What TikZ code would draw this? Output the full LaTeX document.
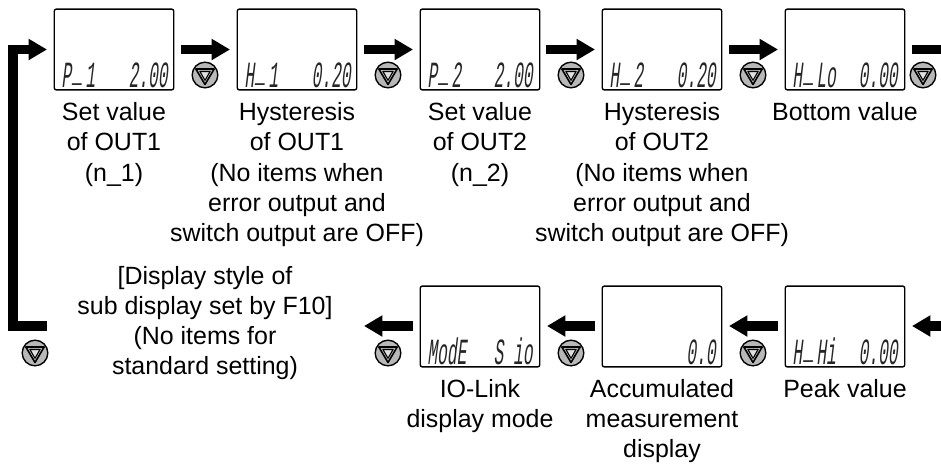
\documentclass[tikz,border=0pt]{standalone}
\usepackage{fontspec}
\setmainfont{Liberation Sans}
\newfontfamily\lcdfont[FakeStretch=0.44,FakeSlant=0.12]{Liberation Mono}
\newcommand{\lcdbar}{\kern0.8pt\raisebox{3pt}{\_}\kern1.8pt}
\usetikzlibrary{positioning}
\usetikzlibrary{arrows.meta}
\tikzset{lcdbox/.style = {draw, rounded corners=1.2pt, line width=0.8pt, inner sep=0,
                          minimum width=68pt, minimum height=46pt}}
\tikzset{lcdright/.style = {inner sep=0, anchor=base east, font=\lcdfont\fontsize{21}{21}\selectfont, text=black!85}}
\tikzset{lcdleft/.style = {lcdright, anchor=base west}}
\tikzset{caption/.style = {align=center, inner sep=0, font=\fontsize{14.2}{17.1}\selectfont}}
\tikzset{flow/.style = {line width=5.6pt, -{Triangle[length=10.5pt,width=11.5pt]}}}
\tikzset{keybtn/.style = {draw, circle, fill=black!28, line width=0.8pt, inner sep=0, minimum size=14.6pt,
                          path picture={
                            \draw[line width=0.9pt, line join=round, fill=black!28]
                              ([shift={(-5.2pt,3.4pt)}]path picture bounding box.center) --
                              ([shift={(5.2pt,3.4pt)}]path picture bounding box.center) --
                              ([shift={(0,-5.4pt)}]path picture bounding box.center) -- cycle;
                            \draw[line width=0.6pt, line join=round, fill=black!12]
                              ([shift={(-2.9pt,2pt)}]path picture bounding box.center) --
                              ([shift={(2.9pt,2pt)}]path picture bounding box.center) --
                              ([shift={(0,-3pt)}]path picture bounding box.center) -- cycle;}}}
\begin{document}
\begin{tikzpicture}[x=0.02cm,y=-0.02cm]
  \useasboundingbox (0,0) rectangle (941,464);
  \clip (0,0) rectangle (941,464);

  % displays
  \foreach \name/\xc/\yc in {setone/114/49.5, hysone/297/49.5, settwo/480/49.5, hystwo/662/49.5,
                             bottom/845/49.5, peak/845/326.5, accum/662/326.5, iolink/480/326.5}
    \node[lcdbox] (\name) at (\xc,\yc) {};

  \node[lcdleft] (setoneL) at (61,87) {P\lcdbar1};
  \node[lcdright] (setoneR) at (168,87) {2.00};
  \node[lcdleft] (hysoneL) at (244,87) {H\lcdbar1};
  \node[lcdright] (hysoneR) at (351,87) {0.20};
  \node[lcdleft] (settwoL) at (427,87) {P\lcdbar2};
  \node[lcdright] (settwoR) at (533,87) {2.00};
  \node[lcdleft] (hystwoL) at (609,87) {H\lcdbar2};
  \node[lcdright] (hystwoR) at (716,87) {0.20};
  \node[lcdleft] (bottomL) at (792,87) {H\lcdbar Lo};
  \node[lcdright] (bottomR) at (898,87) {0.00};
  \node[lcdleft] (peakL) at (792,364) {H\lcdbar Hi};
  \node[lcdright] (peakR) at (898,364) {0.00};
  \node[lcdright] (accumR) at (716,364) {0.0};
  \node[lcdleft] (iolinkL) at (427,364) {ModE};
  \node[lcdright] (iolinkR) at (533,364) {S io};

  % keys
  \foreach \name/\xc/\yc in {keya/205/75, keyb/388/75, keyc/571/75, keyd/753/75, keye/923/75,
                             keyf/753/353, keyg/571/353, keyh/388/353, keyi/35/353}
    \node[keybtn] (\name) at (\xc,\yc) {};

  % captions
  \node[caption, anchor=north] (capa) at (114,102.5) {Set value\\of OUT1\\(n\_1)};
  \node[caption, anchor=north] (capb) at (297,102.5) {Hysteresis\\of OUT1\\(No items when\\error output and\\switch output are OFF)};
  \node[caption, anchor=north] (capc) at (480,102.5) {Set value\\of OUT2\\(n\_2)};
  \node[caption, anchor=north] (capd) at (662,102.5) {Hysteresis\\of OUT2\\(No items when\\error output and\\switch output are OFF)};
  \node[caption, anchor=north] (cape) at (845,102.5) {Bottom value};
  \node[caption, anchor=north] (capf) at (845,379) {Peak value};
  \node[caption, anchor=north] (capg) at (662,379) {Accumulated\\measurement\\display};
  \node[caption, anchor=north] (caph) at (480,379) {IO-Link\\display mode};
  \node[caption, anchor=north] (capi) at (205,266) {[Display style of\\sub display set by F10]\\(No items for\\standard setting)};

  % arrows
  \coordinate (startloop) at (47,326);
  \coordinate (endloop) at (47,49.5);
  \draw[flow] (startloop) -- (13,326) -- (13,49.5) -- (endloop);
  \draw[flow] (181,49.5) -- (230,49.5);
  \draw[flow] (364,49.5) -- (413,49.5);
  \draw[flow] (546,49.5) -- (595,49.5);
  \draw[flow] (729,49.5) -- (778,49.5);
  \draw[flow] (912,49.5) -- (945.8,49.5) -- (945.8,326) -- (912,326);
  \draw[flow] (778,326) -- (729,326);
  \draw[flow] (595,326) -- (547,326);
  \draw[flow] (413,326) -- (364,326);
\end{tikzpicture}
\end{document}
